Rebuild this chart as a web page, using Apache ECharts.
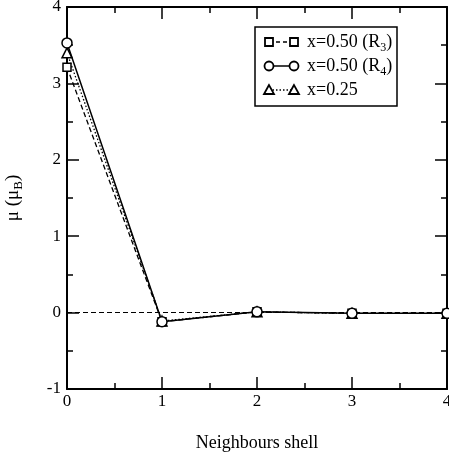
<!DOCTYPE html>
<html>
<head>
<meta charset="utf-8">
<script src="https://cdn.jsdelivr.net/npm/echarts@6/dist/echarts.min.js"></script>
<style>
  html, body { margin: 0; padding: 0; background: #fff; }
  #main { width: 449px; height: 455px; }
</style>
</head>
<body>
<div id="main"></div>
<script>
// neighbour shells and moment per shell
var shells = [0, 1, 2, 3, 4];
var r3Values = [3.21, -0.12, 0.01, -0.01, -0.01];
var r4Values = [3.53, -0.12, 0.01, -0.01, -0.01];
var x025Values = [3.40, -0.11, 0.01, -0.01, -0.01];
var xTicks = [0, 1, 2, 3, 4];
var yTicks = [-1, 0, 1, 2, 3, 4];

var FONT = 'Liberation Serif';
var chartDom = document.getElementById('main');
var myChart = echarts.init(chartDom);

function pairs(vals) {
    return shells.map(function (s, i) { return [s, vals[i]]; });
}

function tickCommon() {
    return {
        axisLine: {show: true, onZero: false, lineStyle: {color: '#000', width: 2}},
        axisTick: {show: true, inside: true, length: 12, lineStyle: {color: '#000', width: 1.5}},
        minorTick: {show: true, splitNumber: 2, length: 6, lineStyle: {color: '#000', width: 1.5}},
        splitLine: {show: false}
    };
}

// legend drawn by hand: box, two markers joined by the series line, label
var lgX = 255, lgY = 27, rowH = 24;
var legendRows = [
    {sym: 'rect', dash: [4, 3], text: 'x=0.50 (R{sub|3})'},
    {sym: 'circle', dash: null, text: 'x=0.50 (R{sub|4})'},
    {sym: 'triangle', dash: [1.5, 2], text: 'x=0.25'}
];
var legendGraphics = [{
    type: 'rect',
    shape: {x: lgX, y: lgY, width: 142, height: 79},
    style: {fill: '#fff', stroke: '#000', lineWidth: 1.5},
    z: 10
}];
legendRows.forEach(function (r, i) {
    var cy = lgY + 15 + i * rowH;
    legendGraphics.push({
        type: 'line',
        shape: {x1: lgX + 14, y1: cy, x2: lgX + 39, y2: cy},
        style: {stroke: '#000', lineWidth: 1.5, lineDash: r.dash},
        z: 11
    });
    [lgX + 14, lgX + 39].forEach(function (sx) {
        var g;
        if (r.sym === 'rect') {
            g = {type: 'rect', shape: {x: sx - 4, y: cy - 4, width: 8, height: 8}};
        } else if (r.sym === 'circle') {
            g = {type: 'circle', shape: {cx: sx, cy: cy, r: 4.5}};
        } else {
            g = {type: 'polygon', shape: {points: [[sx, cy - 5], [sx - 5, cy + 4], [sx + 5, cy + 4]]}};
        }
        g.style = {fill: '#fff', stroke: '#000', lineWidth: 1.8};
        g.z = 12;
        legendGraphics.push(g);
    });
    legendGraphics.push({
        type: 'text',
        x: lgX + 52, y: cy,
        style: {
            text: r.text,
            font: '18px ' + FONT,
            fill: '#000',
            verticalAlign: 'middle',
            rich: {sub: {fontSize: 12, fontFamily: FONT, padding: [11, 0, 0, 0]}}
        },
        z: 12
    });
});

var option = {
    backgroundColor: '#fff',
    animation: false,
    grid: {left: 67, right: 2, top: 7, bottom: 66, outerBoundsMode: 'none', containLabel: false},
    xAxis: [
        Object.assign(tickCommon(), {
            type: 'value', min: 0, max: 4, interval: 1,
            name: 'Neighbours shell', nameLocation: 'middle', nameGap: 45,
            nameTextStyle: {fontFamily: FONT, fontSize: 18, color: '#000'},
            axisLabel: {
                fontFamily: FONT, fontSize: 17, color: '#000', margin: 4,
                customValues: xTicks
            }
        }),
        Object.assign(tickCommon(), {
            type: 'value', min: 0, max: 4, interval: 1, position: 'top',
            axisLabel: {show: false}
        })
    ],
    yAxis: [
        Object.assign(tickCommon(), {
            type: 'value', min: -1, max: 4, interval: 1,
            name: 'μ (μ{sub|B})', nameLocation: 'middle', nameGap: 42, nameRotate: 90,
            nameTextStyle: {
                fontFamily: FONT, fontSize: 19, color: '#000',
                rich: {sub: {fontSize: 13, fontFamily: FONT, padding: [10, 0, 0, 0]}}
            },
            axisLabel: {
                fontFamily: FONT, fontSize: 17, color: '#000', margin: 6,
                customValues: yTicks
            }
        }),
        Object.assign(tickCommon(), {
            type: 'value', min: -1, max: 4, interval: 1, position: 'right',
            axisLabel: {show: false}
        })
    ],
    series: [
        {
            name: 'x=0.25', type: 'line', data: pairs(x025Values),
            symbol: 'triangle', symbolSize: 10, showAllSymbol: true,
            itemStyle: {color: '#fff', borderColor: '#000', borderWidth: 1.5},
            lineStyle: {color: '#000', width: 1.3, type: [1.5, 2]},
            z: 3,
            markLine: {
                silent: true, symbol: 'none', label: {show: false},
                lineStyle: {color: '#000', width: 1, type: [5, 3]},
                data: [{yAxis: 0}]
            }
        },
        {
            name: 'x=0.50 (R3)', type: 'line', data: pairs(r3Values),
            symbol: 'rect', symbolSize: 8, showAllSymbol: true,
            itemStyle: {color: '#fff', borderColor: '#000', borderWidth: 1.5},
            lineStyle: {color: '#000', width: 1.3, type: [5, 3]},
            z: 4
        },
        {
            name: 'x=0.50 (R4)', type: 'line', data: pairs(r4Values),
            symbol: 'circle', symbolSize: 10, showAllSymbol: true,
            itemStyle: {color: '#fff', borderColor: '#000', borderWidth: 1.5},
            lineStyle: {color: '#000', width: 1.5},
            z: 5
        }
    ],
    graphic: legendGraphics
};

option && myChart.setOption(option);
</script>
</body>
</html>
